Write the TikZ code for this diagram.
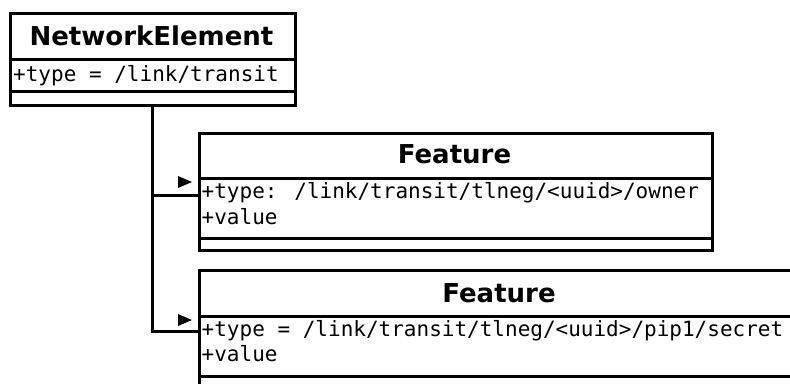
\documentclass[tikz,border=0pt]{standalone}
\usepackage{fontspec}
\newfontfamily\dvsans{DejaVu Sans}
\newfontfamily\dvmono{DejaVu Sans Mono}
\begin{document}
\begin{tikzpicture}[x=1pt,y=-1pt,
  comp/.style={draw, line width=3pt, inner sep=0pt, anchor=north west, fill=white},
  ttl/.style={font=\dvsans\bfseries\fontsize{26}{30}\selectfont, inner sep=0pt, anchor=base},
  attr/.style={font=\dvmono\fontsize{21}{25}\selectfont, inner sep=0pt, anchor=base west},
  conn/.style={line width=3pt},
  navtri/.style={fill=black}]
\useasboundingbox (0,0) rectangle (790,383);
\clip (0,0) rectangle (790,383);
% NetworkElement
\node[comp, minimum width=285pt, minimum height=46pt] (neh) at (9,12) {};
\node[comp, minimum width=285pt, minimum height=32pt] (nea) at (9,58) {};
\node[comp, minimum width=285pt, minimum height=14pt] (neo) at (9,90) {};
\node[ttl] (net) at (151.5,45) {NetworkElement};
\node[attr] (nel1) at (13,81) {+type = /link/transit};
% Feature 1
\node[comp, minimum width=513pt, minimum height=45pt] (f1h) at (198,132) {};
\node[comp, minimum width=513pt, minimum height=60pt] (f1a) at (198,177) {};
\node[comp, minimum width=513pt, minimum height=12pt] (f1o) at (198,237) {};
\node[ttl] (f1t) at (454.5,163) {Feature};
\node[attr] (f1l1) at (201.5,198) {+type: /link/transit/tlneg/<uuid>/owner};
\node[attr] (f1l2) at (201.5,224) {+value};
% Feature 2
\node[comp, minimum width=602pt, minimum height=46pt] (f2h) at (198,269) {};
\node[comp, minimum width=602pt, minimum height=60pt] (f2a) at (198,315) {};
\node[comp, minimum width=602pt, minimum height=20pt] (f2o) at (198,375) {};
\node[ttl] (f2t) at (499,302) {Feature};
\node[attr] (f2l1) at (201.5,336) {+type = /link/transit/tlneg/<uuid>/pip1/secret};
\node[attr] (f2l2) at (201.5,361) {+value};
% connectors
\coordinate (trunk) at (152,0);
\draw[conn] (neo.south -| trunk) |- ([yshift=-16pt]f2a.north west);
\draw[conn] (trunk |- f1a.north west) ++(0,18) -- ([yshift=-18pt]f1a.north west);
% direction markers
\fill[navtri] (178,176) -- (192,182) -- (178,188) -- cycle;
\fill[navtri] (178,314) -- (192,320) -- (178,326) -- cycle;
\end{tikzpicture}
\end{document}
